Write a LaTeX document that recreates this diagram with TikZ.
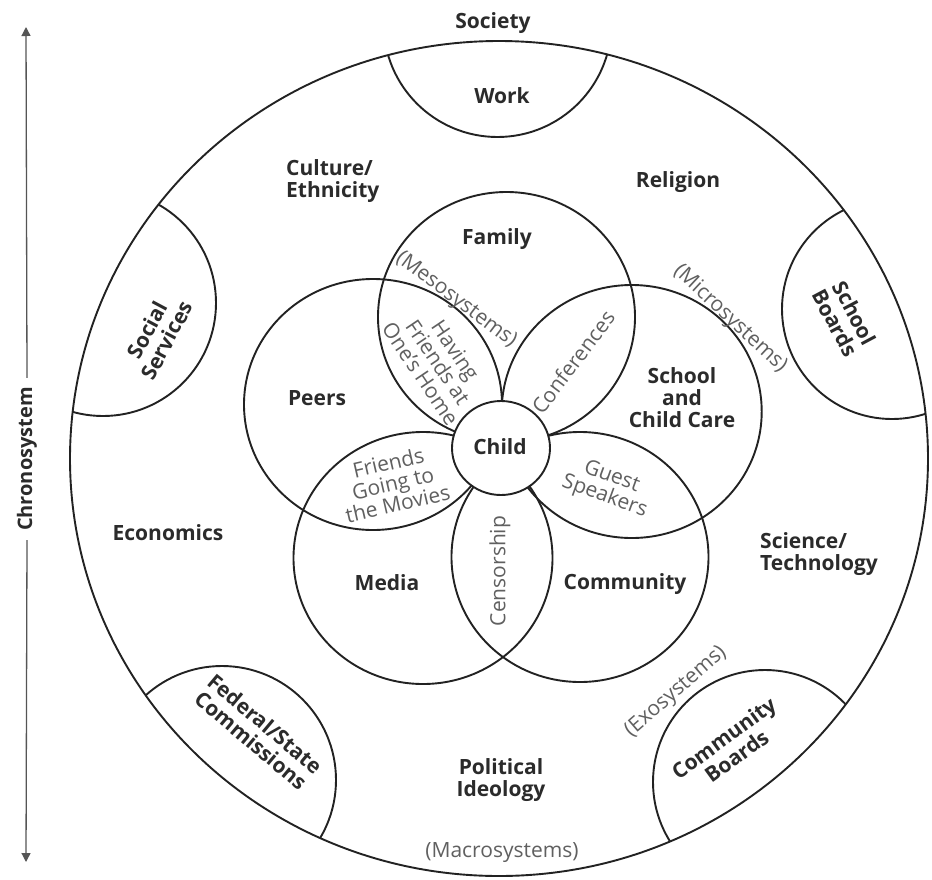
\documentclass[tikz,border=0pt]{standalone}
\usepackage{fontspec}
\setmainfont{Open Sans}
\usetikzlibrary{arrows.meta}
\definecolor{linec}{HTML}{222222}
\definecolor{textc}{HTML}{2B2B2B}
\definecolor{softc}{HTML}{606060}
\definecolor{arrowc}{HTML}{555555}
\begin{document}
\begin{tikzpicture}[x=1pt,y=-1pt,
  ring/.style={draw=linec, line width=1.9pt},
  hard/.style={font=\fontsize{21}{22}\selectfont\bfseries, text=textc, align=center, inner sep=0pt},
  soft/.style={font=\fontsize{21}{21}\selectfont, text=softc, align=center, inner sep=0pt},
  timeline/.style={draw=arrowc, line width=1.3pt, -{Triangle[width=9pt,length=9pt]}}]
\useasboundingbox (0,0) rectangle (932,879);
\fill[white] (0,0) rectangle (932,879);

% outer society circle
\draw[ring] (499,458.5) ellipse [x radius=429, y radius=417.5];
% exosystem caps
\begin{scope}
  \clip (499,458.5) ellipse [x radius=429, y radius=417.5];
  \draw[ring] (497.5,23) circle [radius=114];
  \draw[ring] (103,303) circle [radius=113];
  \draw[ring] (892,309) circle [radius=110];
  \draw[ring] (222,780) circle [radius=114];
  \draw[ring] (765,782) circle [radius=112];
\end{scope}

% microsystem petals
\draw[ring] (506.5,317) ellipse [x radius=128.5, y radius=125];
\draw[ring] (373,404.5) ellipse [x radius=129, y radius=125.5];
\draw[ring] (631.7,411.5) ellipse [x radius=130, y radius=126.5];
\draw[ring] (423,558) ellipse [x radius=129.5, y radius=126];
\draw[ring] (580,557) ellipse [x radius=128.5, y radius=125];
% child
\draw[ring, fill=white] (501,448) ellipse [x radius=49, y radius=47];

% labels
\node[hard] (society) at (493,23) {Society};
\node[hard] (work) at (502,96) {Work};
\node[hard, align=left, anchor=west] (culture) at (286,181) {Culture/\\Ethnicity};
\node[hard] (religion) at (678,182) {Religion};
\node[hard] (family) at (497,239) {Family};
\node[hard] (peers) at (317,398) {Peers};
\node[hard] (school) at (682,397.5) {School\\and\\Child Care};
\node[hard] (child) at (500,447) {Child};
\node[hard] (media) at (387,583) {Media};
\node[hard] (community) at (625,584) {Community};
\node[hard] (economics) at (168,533) {Economics};
\node[hard, align=left, anchor=west] (science) at (760,554) {Science/\\Technology};
\node[hard] (political) at (501,780) {Political\\Ideology};
\node[hard, rotate=-62] (schoolboards) at (845,318) {School\\Boards};
\node[hard, rotate=62] (social) at (157,335) {Social\\Services};
\node[hard, rotate=-40] (federal) at (258,732) {Federal/State\\Commissions};
\node[hard, rotate=36] (comboards) at (730,747) {Community\\Boards};

\node[soft] (macro) at (502,853) {(Macrosystems)};
\node[soft, rotate=41] (exo) at (676,692) {(Exosystems)};
\node[soft, rotate=-43] (micro) at (730,319) {(Microsystems)};
\node[soft, rotate=-37] (meso) at (456,300) {(Mesosystems)};
\node[soft, rotate=-56] (having) at (438,362) {Having\\Friends at\\One’s Home};
\node[soft, rotate=53] (conf) at (573,362) {Conferences};
\node[soft, rotate=13] (movies) at (393,483) {Friends\\Going to\\the Movies};
\node[soft, rotate=-20] (guest) at (608,487) {Guest\\Speakers};
\node[soft, rotate=90] (censor) at (500,571) {Censorship};

% chronosystem
\node[font=\fontsize{20}{22}\selectfont\bfseries, text=textc, rotate=90, inner xsep=9pt, inner ysep=0pt] (chrono) at (27,459) {Chronosystem};
\coordinate (ctop) at (26,27);
\coordinate (cbot) at (26,862);
\draw[timeline] (chrono.east) -- (ctop);
\draw[timeline] (chrono.west) -- (cbot);
\end{tikzpicture}
\end{document}
